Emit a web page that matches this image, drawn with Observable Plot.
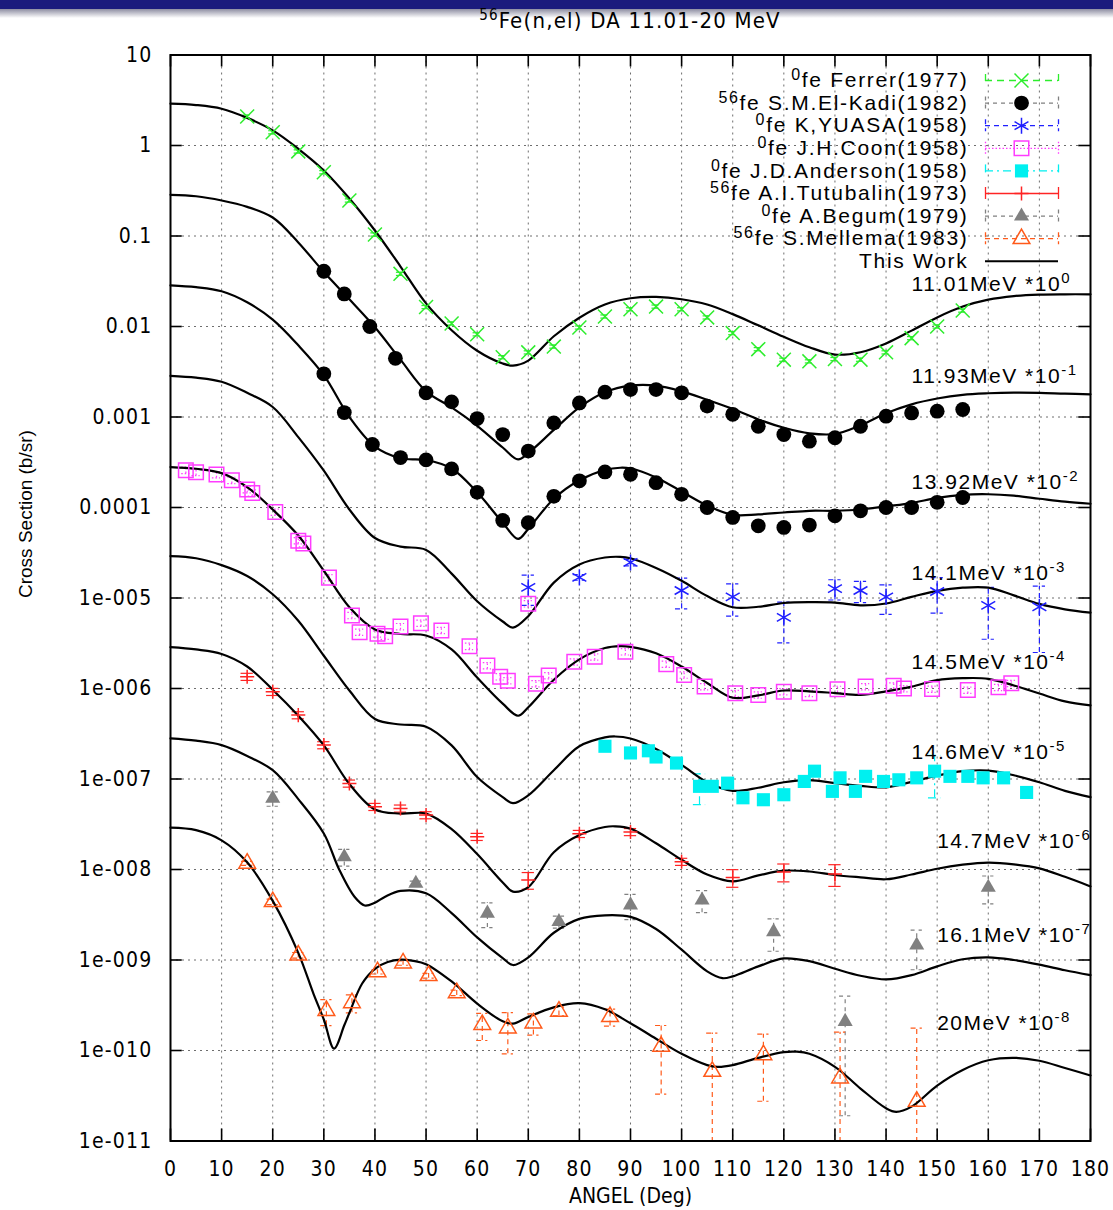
<!DOCTYPE html>
<html>
<head>
<meta charset="utf-8">
<script src="https://cdn.jsdelivr.net/npm/d3@7"></script>
<script src="https://cdn.jsdelivr.net/npm/@observablehq/plot@0.6"></script>
<style>
  body { margin: 0; background: #fff; }
  #chart { position: relative; width: 1113px; height: 1210px; overflow: hidden; font-family: "Liberation Sans", Arial, sans-serif; }
  #chart > svg.main { position: absolute; left: 0; top: 0; }
  #legend { position: absolute; left: 690px; top: 60px; }
  #legend text { letter-spacing: 1.7px; }
  svg.main text.curve-label { letter-spacing: 1.5px; }
  .banner { position: absolute; left: 0; top: 0; width: 1113px; height: 9px; background: #1b1b7d; }
  .shade { position: absolute; left: 0; top: 9px; width: 1113px; height: 9px; background: linear-gradient(#8e8ea2, #ffffff); }
  .title { position: absolute; left: 170px; top: 8px; width: 920px; text-align: center;
           font: 22px "Liberation Sans Narrow", "DejaVu Sans Condensed", sans-serif; letter-spacing: 1.2px; color: #000; }
  .title sup { font-size: 15px; line-height: 0; }
  svg.main g[aria-label="x-axis tick label"] text,
  svg.main g[aria-label="y-axis tick label"] text {
    font-family: "Liberation Sans Narrow", "DejaVu Sans Condensed", sans-serif; font-size: 21px; letter-spacing: 1.2px;
  }
</style>
</head>
<body>
<div id="chart"></div>
<script>
// ---- axes ----
const xTicks = [0, 10, 20, 30, 40, 50, 60, 70, 80, 90, 100, 110, 120, 130, 140, 150, 160, 170, 180];
const yTicks = [10, 1, 0.1, 0.01, 0.001, 0.0001, 1e-5, 1e-6, 1e-7, 1e-8, 1e-9, 1e-10, 1e-11];
const yTickLabels = ["10", "1", "0.1", "0.01", "0.001", "0.0001", "1e-005", "1e-006", "1e-007", "1e-008", "1e-009", "1e-010", "1e-011"];

// ---- incident energies; each curve is multiplied by 10^shift ----
const energies = ["11.01", "11.93", "13.92", "14.1", "14.5", "14.6", "14.7", "16.1", "20"];
const shiftExp = [0, -1, -2, -3, -4, -5, -6, -7, -8];

// ---- calculated angular distributions (b/sr, before shifting): [angle, dσ/dΩ] ----
const calc1101 = [[0,2.9],[5,2.8],[10,2.55],[15,2.02],[20,1.47],[25,0.92],[30,0.53],[35,0.26],[40,0.115],[45,0.046],[50,0.018],[55,0.0091],[60,0.0054],[65,0.0039],[67,0.0037],[70,0.0042],[75,0.0078],[80,0.0125],[85,0.0175],[90,0.0205],[95,0.0212],[100,0.0200],[105,0.0175],[110,0.0137],[115,0.0103],[120,0.0077],[125,0.0059],[130,0.0049],[135,0.0052],[140,0.0065],[145,0.0090],[150,0.0126],[155,0.0166],[160,0.0198],[165,0.0217],[170,0.0225],[175,0.0227],[180,0.0227]];
const calc1193 = [[0,2.85],[5,2.75],[10,2.47],[15,2.1],[20,1.6],[25,0.85],[30,0.40],[35,0.20],[40,0.098],[45,0.043],[50,0.0192],[55,0.0128],[60,0.0080],[65,0.0046],[68,0.0034],[70,0.0040],[75,0.0072],[80,0.0128],[85,0.0188],[90,0.0222],[95,0.0222],[100,0.0192],[105,0.0155],[110,0.0123],[115,0.0094],[120,0.0076],[125,0.0066],[130,0.0065],[135,0.0081],[140,0.0110],[145,0.0138],[150,0.0160],[155,0.0176],[160,0.0183],[165,0.0186],[170,0.0185],[175,0.0181],[180,0.0178]];
const calc1392 = [[0,2.85],[5,2.72],[10,2.45],[15,1.85],[20,1.19],[25,0.62],[30,0.29],[35,0.10],[40,0.047],[45,0.035],[50,0.0335],[55,0.027],[60,0.0147],[65,0.0068],[68,0.0045],[70,0.0058],[75,0.0125],[80,0.020],[85,0.026],[88,0.0275],[90,0.027],[95,0.0215],[100,0.0150],[105,0.0105],[110,0.0083],[115,0.0084],[120,0.0088],[125,0.0092],[130,0.0092],[135,0.0095],[140,0.0103],[145,0.0112],[150,0.0128],[155,0.0138],[160,0.0140],[165,0.0135],[170,0.0125],[175,0.0116],[180,0.011]];
const calc141 = [[0,2.85],[5,2.72],[10,2.45],[15,1.85],[20,1.29],[25,0.6],[30,0.255],[35,0.095],[40,0.046],[45,0.037],[50,0.034],[55,0.0186],[60,0.0092],[65,0.0055],[67,0.0047],[70,0.0063],[75,0.0148],[80,0.0235],[85,0.028],[88,0.0285],[90,0.0275],[95,0.0215],[100,0.0155],[105,0.0105],[110,0.0079],[115,0.0080],[120,0.0088],[125,0.0090],[130,0.0089],[135,0.0083],[140,0.0087],[145,0.0103],[150,0.0120],[155,0.0130],[160,0.0130],[165,0.0107],[170,0.0086],[175,0.0075],[180,0.0069]];
const calc145 = [[0,2.8],[5,2.68],[10,2.40],[15,1.68],[20,0.95],[25,0.49],[30,0.20],[35,0.079],[40,0.045],[45,0.040],[50,0.0385],[55,0.027],[60,0.0132],[65,0.0068],[68,0.0050],[70,0.0062],[75,0.0125],[80,0.021],[85,0.028],[88,0.0294],[90,0.0289],[95,0.0245],[100,0.0175],[105,0.0115],[110,0.0079],[115,0.0084],[120,0.0095],[125,0.0093],[130,0.0089],[135,0.0085],[140,0.0093],[145,0.0105],[150,0.0124],[155,0.0130],[160,0.0128],[165,0.0108],[170,0.0088],[175,0.0072],[180,0.0065]];
const calc146 = [[0,2.9],[5,2.75],[10,2.31],[15,1.75],[20,1.1],[25,0.56],[30,0.23],[35,0.095],[40,0.046],[45,0.040],[50,0.0378],[55,0.0235],[60,0.0105],[65,0.0063],[67,0.0054],[70,0.0066],[75,0.0125],[80,0.023],[85,0.0288],[87,0.0295],[90,0.028],[95,0.0215],[100,0.0143],[105,0.0092],[110,0.0074],[115,0.0080],[120,0.0092],[125,0.0097],[130,0.0090],[135,0.0084],[140,0.0081],[145,0.0093],[150,0.0109],[155,0.0122],[160,0.0124],[165,0.0110],[170,0.0092],[175,0.0074],[180,0.0063]];
const calc147 = [[0,2.86],[5,2.7],[10,2.41],[15,1.75],[20,0.97],[25,0.5],[30,0.235],[35,0.088],[40,0.046],[45,0.0415],[50,0.0415],[55,0.028],[60,0.0148],[65,0.0072],[67,0.0057],[70,0.0064],[75,0.0155],[80,0.024],[85,0.0295],[87,0.030],[90,0.0283],[95,0.0195],[100,0.0128],[105,0.0088],[110,0.0074],[115,0.0086],[120,0.0097],[125,0.0095],[130,0.0087],[135,0.0082],[140,0.0078],[145,0.0088],[150,0.0102],[155,0.0113],[160,0.0119],[165,0.0114],[170,0.0103],[175,0.0083],[180,0.0065]];
const calc161 = [[0,2.81],[5,2.65],[10,2.37],[15,1.8],[20,1.25],[25,0.6],[30,0.25],[33,0.1],[36,0.05],[38,0.040],[40,0.043],[42,0.050],[45,0.058],[50,0.0546],[55,0.033],[60,0.0178],[65,0.0105],[67,0.0088],[70,0.0107],[75,0.020],[80,0.0285],[85,0.0312],[90,0.030],[95,0.022],[100,0.013],[105,0.0075],[108,0.0063],[110,0.0066],[115,0.0085],[120,0.0104],[125,0.0097],[130,0.0080],[135,0.0067],[140,0.0061],[145,0.0068],[150,0.0085],[155,0.0102],[160,0.0107],[165,0.0100],[170,0.0089],[175,0.0077],[180,0.0068]];
const calc20 = [[0,2.9],[5,2.72],[10,2.1],[15,1.2],[20,0.45],[25,0.12],[28,0.042],[30,0.022],[32,0.0105],[34,0.019],[35,0.026],[37.5,0.055],[40,0.08],[42.5,0.095],[45,0.101],[47.5,0.098],[50,0.09],[55,0.058],[60,0.033],[65,0.021],[67,0.0198],[70,0.0235],[75,0.030],[80,0.0333],[85,0.0285],[90,0.020],[95,0.0135],[100,0.0092],[105,0.0069],[107,0.0066],[110,0.0069],[115,0.0083],[120,0.0096],[122.5,0.0097],[125,0.0092],[130,0.0066],[135,0.0038],[140,0.0023],[142,0.0021],[145,0.0024],[150,0.0041],[155,0.0061],[160,0.0078],[165,0.0083],[170,0.0077],[175,0.0064],[180,0.0053]];
const calculated = [calc1101, calc1193, calc1392, calc141, calc145, calc146, calc147, calc161, calc20];

// ---- measurements (b/sr, before shifting): [angle, dσ/dΩ, error] ----
const ferrer = [[15,2.09],[20,1.40],[25,0.86],[30,0.507],[35,0.247],[40,0.104],[45,0.0382],[50,0.0164],[55,0.0108],[60,0.0082],[65,0.00458],[70,0.00518],[75,0.0060],[80,0.00975],[85,0.0129],[90,0.0155],[95,0.0166],[100,0.0155],[105,0.0126],[110,0.00845],[115,0.00562],[120,0.0043],[125,0.00412],[130,0.00437],[135,0.0043],[140,0.00518],[145,0.00744],[150,0.0100],[155,0.0150]];
const elKadi1193 = [[30,0.408],[34,0.229],[39,0.100],[44,0.0445],[50,0.0185],[55,0.0147],[60,0.0096],[65,0.0064],[70,0.0042],[75,0.0086],[80,0.0143],[85,0.0188],[90,0.0201],[95,0.0201],[100,0.0185],[105,0.0132],[110,0.0107],[115,0.0079],[120,0.0064],[125,0.0054],[130,0.0059],[135,0.0079],[140,0.0102],[145,0.0111],[150,0.0116],[155,0.0121]];
const elKadi1392 = [[30,0.30],[34,0.112],[39.5,0.0497],[45,0.0356],[50,0.0336],[55,0.0267],[60,0.0147],[65,0.0072],[70,0.0068],[75,0.0133],[80,0.0197],[85,0.0247],[90,0.0233],[95,0.0188],[100,0.0140],[105,0.0100],[110,0.00776],[115,0.00628],[120,0.00602],[125,0.0064],[130,0.0081],[135,0.0092],[140,0.0100],[145,0.0100],[150,0.0114],[155,0.0129]];
const yuasa = [[70,0.0131,0.0048],[80,0.0169,0.0012],[90,0.0247,0.002],[100,0.0121,0.0045],[110,0.0103,0.004],[120,0.0061,0.0029],[130,0.0127,0.0032],[135,0.0121,0.0032],[140,0.0103,0.0037],[150,0.0118,0.005],[160,0.0083,0.0048],[170,0.0080,0.0055]];
const coon = [[3,2.58],[5,2.45],[9,2.31],[12,2.0],[15,1.58],[16,1.45],[20.5,0.89],[25,0.43],[26,0.40],[31,0.168],[35.5,0.0641],[37,0.0419],[40.5,0.0402],[42,0.0379],[45,0.0484],[49,0.0527],[53,0.0438],[58.5,0.0293],[62,0.0179],[64.5,0.0135],[66,0.0122],[70,0.0865],[71.5,0.0113],[74,0.0139],[79,0.0197],[83,0.0224],[89,0.0255],[97,0.0186],[100.5,0.0141],[104.5,0.0105],[110.5,0.00885],[115,0.00848],[120,0.00923],[125,0.00885],[130.5,0.0098],[136,0.0105],[141.5,0.0107],[143.5,0.0100],[149,0.00986],[156,0.0096],[162,0.0103],[164.5,0.0114]];
const anderson = [[85,0.023],[90,0.0194],[93.5,0.0205],[95,0.0175],[99,0.015],[103.5,0.0083,0.0031],[106,0.0083],[109,0.0090],[112,0.0062],[116,0.0059],[120,0.0067],[124,0.0094],[126,0.0122],[129.5,0.0073],[131,0.0103],[134,0.0073],[136,0.0107],[139.5,0.0094],[142.5,0.0098],[146,0.0103],[149.5,0.0122,0.006],[152.5,0.0107],[156,0.0107],[159,0.0103],[163,0.0103],[167.5,0.0071]];
const tutubalin = [[15,1.35],[20,0.92],[25,0.508],[30,0.237],[35,0.0893],[40,0.0493],[45,0.0473],[50,0.0399],[60,0.023],[70,0.00765,0.0016],[80,0.0248],[90,0.026],[100,0.0122],[110,0.00816,0.0018],[120,0.0094,0.0021],[130,0.0089,0.0024]];
const begum = [[20,0.61,0.11],[34,0.138,0.029],[48,0.0703,0.004],[62,0.0328,0.01],[76,0.0265,0.004],[90,0.0405,0.0125],[104,0.0459,0.0126],[118,0.0205,0.008],[132,0.00209,0.0019],[146,0.0146,0.0068],[160,0.0633,0.0215]];
const mellema = [[15,1.17,0.06],[20,0.44,0.03],[25,0.113,0.008],[30.5,0.0276,0.0088],[35.5,0.0336,0.0075],[40.5,0.074,0.004],[45.5,0.0925,0.005],[50.5,0.067,0.004],[56,0.0434,0.003],[61,0.0193,0.0064],[66,0.0177,0.0085],[71,0.0201,0.0053],[76,0.0271,0.003],[86,0.0236,0.005],[96,0.0111,0.0078],[106,0.00586,0.0097],[116,0.00895,0.0062],[131,0.00495,0.011],[146,0.00274,0.0149]];

// ---- how each set is drawn ----
const green = "#2ded2d", blue = "#2020ff", magenta = "#ff3cff", cyan = "#00f0f0",
      red = "#ff2424", gray = "#808080", orange = "#ff5a1a";

const datasets = [
  {label: "^{0}fe Ferrer(1977)", data: ferrer, curve: 0, symbol: "times", r: 6.4, fill: "none", stroke: green, line: green, dash: "7,5", relErr: 0.04, capW: 0.8},
  {label: "^{56}fe S.M.El-Kadi(1982)", data: elKadi1193, curve: 1, symbol: "circle", r: 7.4, fill: "black", stroke: "none", line: gray, dash: "4,4", relErr: 0, capW: 0.8},
  {label: null, data: elKadi1392, curve: 2, symbol: "circle", r: 7.4, fill: "black", stroke: "none", line: gray, dash: "4,4", relErr: 0, capW: 0.8},
  {label: "^{0}fe K,YUASA(1958)", data: yuasa, curve: 3, symbol: "asterisk", r: 7.6, fill: "none", stroke: blue, line: blue, dash: "5,4", relErr: 0, capW: 1.2},
  {label: "^{0}fe J.H.Coon(1958)", data: coon, curve: 4, symbol: "square", r: 8.2, fill: "none", stroke: magenta, line: magenta, dash: "1.5,2", relErr: 0.08, capW: 0.8},
  {label: "^{0}fe J.D.Anderson(1958)", data: anderson, curve: 5, symbol: "square", r: 7.4, fill: cyan, stroke: "none", line: cyan, dash: "8,4,2,4", relErr: 0, capW: 1.2},
  {label: "^{56}fe A.I.Tutubalin(1973)", data: tutubalin, curve: 6, symbol: "plus", r: 4.6, fill: "none", stroke: red, line: red, dash: null, relErr: 0.09, capW: 1.2},
  {label: "^{0}fe A.Begum(1979)", data: begum, curve: 7, symbol: "triangle", r: 5.6, fill: gray, stroke: "none", line: gray, dash: "4,4", relErr: 0, capW: 1.1},
  {label: "^{56}fe S.Mellema(1983)", data: mellema, curve: 8, symbol: "triangle", r: 6.2, fill: "none", stroke: orange, line: orange, dash: "5,4", relErr: 0, capW: 1.1}
];

// ---- curve labels ----
const labelAngle = [145, 145, 145, 145, 145, 145, 150, 150, 150];
const labelDy = [-10, -18, -21, -39, -43, -45, -45, -40, -52];

const shift = i => Math.pow(10, shiftExp[i]);

const curveRows = calculated.flatMap((c, i) => c.map(([a, v]) => ({angle: a, value: v * shift(i), series: energies[i]})));

function pointRows(ds) {
  const s = shift(ds.curve);
  return ds.data.map(([a, v, e]) => {
    const err = e !== undefined ? e : v * ds.relErr;
    const lo = v - err > 0 ? (v - err) * s : 1e-14;
    return {angle: a, value: v * s, lo, hi: (v + err) * s, hasErr: err > 0};
  });
}

const dataMarks = [];
for (const ds of datasets) {
  const rows = pointRows(ds);
  const withErr = rows.filter(d => d.hasErr);
  const lineStyle = {stroke: ds.line, strokeWidth: 1.2, strokeDasharray: ds.dash || undefined, clip: true};
  dataMarks.push(
    Plot.ruleX(withErr, {x: "angle", y1: "lo", y2: "hi", ...lineStyle}),
    Plot.ruleY(withErr, {y: "hi", x1: d => d.angle - ds.capW, x2: d => d.angle + ds.capW, ...lineStyle}),
    Plot.ruleY(withErr, {y: "lo", x1: d => d.angle - ds.capW, x2: d => d.angle + ds.capW, ...lineStyle})
  );
  ds.rows = rows;
}
const markerMarks = datasets.map(ds =>
  Plot.dot(ds.rows, {x: "angle", y: "value", symbol: ds.symbol, r: ds.r, fill: ds.fill, stroke: ds.stroke, strokeWidth: 1.5})
);

// inward tick length in data units (about 12 px)
const tickDeg = 2.3, tickFactor = Math.pow(10, 12 / 90.5);

const labelMarks = energies.map((e, i) => {
  const c = calculated[i];
  return Plot.text([`${e}MeV *10^{${shiftExp[i]}}`], {
    x: labelAngle[i], y: c[c.length - 1][1] * shift(i), dy: labelDy[i],
    textAnchor: "start", fontSize: 21, fill: "black"
  });
});

const main = Plot.plot({
  width: 1113,
  height: 1210,
  marginTop: 54.5,
  marginBottom: 69.5,
  marginLeft: 170,
  marginRight: 23,
  x: {domain: [0, 180]},
  y: {type: "log", domain: [1e-11, 10]},
  style: {background: "transparent", fontFamily: "Liberation Sans, Arial, sans-serif", overflow: "visible"},
  marks: [
    Plot.ruleX(xTicks.slice(1, -1), {stroke: "#6e6e6e", strokeWidth: 1, strokeDasharray: "2,4"}),
    Plot.ruleY(yTicks.slice(1, -1), {stroke: "#6e6e6e", strokeWidth: 1, strokeDasharray: "2,4"}),
    Plot.ruleY(yTicks, {x1: 0, x2: tickDeg, stroke: "black", strokeWidth: 1.6}),
    Plot.ruleY(yTicks, {x1: 180 - tickDeg, x2: 180, stroke: "black", strokeWidth: 1.6}),
    Plot.ruleX(xTicks, {y1: 1e-11, y2: 1e-11 * tickFactor, stroke: "black", strokeWidth: 1.6}),
    Plot.ruleX(xTicks, {y1: 10 / tickFactor, y2: 10, stroke: "black", strokeWidth: 1.6}),
    ...dataMarks,
    Plot.line(curveRows, {x: "angle", y: "value", z: "series", curve: "catmull-rom", stroke: "black", strokeWidth: 2.2}),
    ...markerMarks,
    ...labelMarks,
    Plot.axisX({ticks: xTicks, tickSize: 0, tickPadding: 20, label: null}),
    Plot.axisY({ticks: yTicks, tickSize: 0, tickPadding: 18, label: null,
                tickFormat: d => yTickLabels[yTicks.indexOf(d)]}),
    Plot.text(["Cross Section (b/sr)"], {frameAnchor: "left", dx: -145, rotate: -90, fontSize: 19, fill: "black"}),
    Plot.text(["ANGEL (Deg)"], {frameAnchor: "bottom", dy: 62, fontSize: 21, fill: "black",
                                fontFamily: "Liberation Sans Narrow, DejaVu Sans Condensed, sans-serif"}),
    Plot.frame({stroke: "black", strokeWidth: 2})
  ]
});
main.classList.add("main");
main.querySelectorAll("text").forEach(t => { if (t.textContent.includes("MeV *10")) t.classList.add("curve-label"); });

// ---- legend ----
const rowY = i => 20 + 22.6 * i;
const legendEntries = datasets.filter(d => d.label).concat([{label: "This Work", line: "black", dash: null, symbol: null}]);
const legendMarks = [
  Plot.text(legendEntries, {x: 278, y: (d, i) => rowY(i), text: "label", textAnchor: "end", fontSize: 21, fill: "black"})
];
legendEntries.forEach((d, i) => {
  const y = rowY(i);
  legendMarks.push(Plot.ruleY([y], {x1: 295, x2: 368, stroke: d.line, strokeWidth: d.label === "This Work" ? 2 : 1.3, strokeDasharray: d.dash || undefined}));
  if (d.symbol) {
    legendMarks.push(Plot.ruleX([295, 368], {y1: y - 6, y2: y + 6, stroke: d.line, strokeWidth: 1.3, strokeDasharray: d.dash || undefined}));
    legendMarks.push(Plot.dot([d], {x: 331, y, symbol: d.symbol, r: d.r, fill: d.fill, stroke: d.stroke, strokeWidth: 1.5}));
  }
});
const legend = Plot.plot({
  width: 420, height: 210, margin: 0,
  x: {type: "identity", axis: null}, y: {type: "identity", axis: null},
  style: {background: "transparent", fontFamily: "Liberation Sans, Arial, sans-serif", overflow: "visible"},
  marks: legendMarks
});
legend.id = "legend";

// turn ^{...} into raised tspans
function raiseSuperscripts(svg, supSize, rise) {
  svg.querySelectorAll("text").forEach(t => {
    const s = t.textContent;
    if (!s.includes("^{")) return;
    const parts = s.split(/(\^\{[^}]*\})/).filter(p => p);
    t.textContent = "";
    let raised = false;
    for (const p of parts) {
      const ts = document.createElementNS("http://www.w3.org/2000/svg", "tspan");
      if (p.startsWith("^{")) {
        ts.textContent = p.slice(2, -1);
        ts.setAttribute("font-size", supSize);
        ts.setAttribute("dy", -rise);
        raised = true;
      } else {
        ts.textContent = p;
        if (raised) { ts.setAttribute("dy", rise); raised = false; }
      }
      t.appendChild(ts);
    }
  });
}
raiseSuperscripts(main, 15, 8);
raiseSuperscripts(legend, 16, 7);

const chart = document.getElementById("chart");
chart.appendChild(main);
chart.insertAdjacentHTML("beforeend",
  '<div class="banner"></div><div class="shade"></div><div class="title"><sup>56</sup>Fe(n,el) DA 11.01-20 MeV</div>');
chart.appendChild(legend);
</script>
</body>
</html>
